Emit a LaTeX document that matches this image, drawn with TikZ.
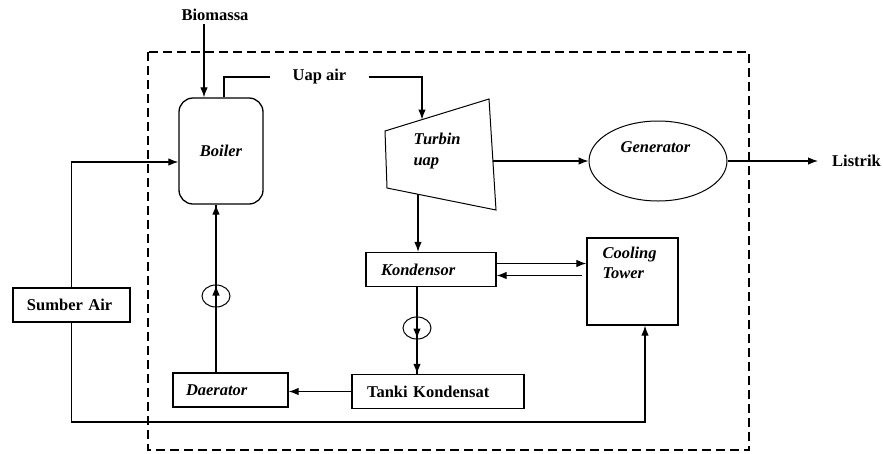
\documentclass[tikz,border=0pt]{standalone}
\usepackage{fontspec}
\setmainfont{Liberation Serif}
\usetikzlibrary{shapes.geometric,arrows.meta}

\tikzset{
    box/.style={draw, line width=1.3pt, align=left, minimum height=34pt},
    pump/.style={draw, ellipse, line width=1pt, minimum width=28pt, minimum height=22pt, inner sep=0pt},
    flow/.style={line width=1.1pt},
}

\begin{document}
\begin{tikzpicture}[x=1pt, y=-1pt, >={Latex[length=10pt,width=7.5pt]},
        font=\fontsize{16.5}{20}\selectfont\bfseries]
        \useasboundingbox (0,0) rectangle (883,453);
        % system boundary
        \draw[line width=2.8pt, dash pattern=on 9pt off 5pt] (148,52) rectangle (749,450);

        \node (Bio) at (215,15) {Biomassa};
        \node (Boiler) [draw, line width=1.3pt, rounded corners=14pt, minimum width=84pt, minimum height=106pt] at (221,151) {\itshape Boiler};
        \node (Uap) [inner xsep=22pt] at (319.5,77) {Uap air};

        % turbine
        \coordinate (T1) at (385,131);
        \coordinate (T2) at (489,99);
        \coordinate (T3) at (496,210);
        \coordinate (T4) at (387,188);
        \draw[line width=1pt] (T1) -- (T2) -- (T3) -- (T4) -- cycle;
        \node (Turbin) [anchor=west, align=left] at (410,151) {\itshape Turbin\\[1pt]\itshape uap};
        \coordinate (Tin) at (422,119.5);
        \coordinate (Tout) at (493,161);
        \coordinate (Tbot) at (418,194);

        \node (Gen) [draw, ellipse, line width=1pt, minimum width=138pt, minimum height=80pt] at (658,161) {};
        \node (GenText) at (655.5,147) {\itshape Generator};
        \node (Listrik) [anchor=west, inner xsep=14pt] at (818,161) {Listrik};

        \node (Kond) [box, text width=100pt, inner xsep=15pt] at (431,269.5) {\itshape Kondensor};
        \node (Cool) [draw, line width=1.3pt, minimum width=91pt, minimum height=87pt] at (632.5,281.5) {};
        \node (CoolText) [anchor=west, align=left] at (599,263) {\itshape Cooling\\\itshape Tower};
        \node (Tanki) [box, text width=142pt, inner xsep=15pt] at (438,391.5) {Tanki Kondensat};
        \node (Daer) [box, text width=89pt, inner xsep=13pt] at (230.5,390) {\itshape Daerator};
        \node (Sumber) [box, text width=89pt, inner xsep=14pt] at (71.5,305) {Sumber Air};

        \node (PumpA) [pump] at (216,296) {};
        \node (PumpB) [pump] at (417,328) {};

        \coordinate (KcA) at ([yshift=6pt]Kond.east);
        \coordinate (KcB) at ([yshift=-6pt]Kond.east);
        \coordinate (Return) at (645,422);

        % steam loop
        \draw[flow,->] ([xshift=-11pt]Bio.south) -- ([xshift=-11pt]Bio.south |- Boiler.north);
        \draw[flow] ([xshift=3pt]Boiler.north) |- (Uap.west);
        \draw[flow,->] (Uap.east) -| (Tin);
        \draw[flow,->] (Tout) -- (Gen.west);
        \draw[flow,->] (Gen.east) -- (Listrik.west);
        \draw[flow,->] (Tbot) -- (Tbot |- Kond.north);
        %
        \draw[flow,->] (KcA) -- (KcA -| Cool.west);
        \draw[flow,->] ([xshift=-4pt]KcB -| Cool.west) -- (KcB);
        %
        \draw[flow] (PumpB |- Kond.south) -- (PumpB |- Tanki.north);
        \draw[flow,->] (PumpB |- Kond.south) -- ([yshift=1pt]PumpB.south);
        \draw[flow,->] (PumpB.south) -- (PumpB |- Tanki.north);
        \draw[flow,->] (Tanki.west) -- (Tanki.west -| Daer.east);
        \draw[flow] (PumpA |- Daer.north) -- (PumpA |- Boiler.south);
        \draw[flow,->] (PumpA |- Daer.north) -- ([yshift=-1pt]PumpA.north);
        \draw[flow,->] (PumpA.north) -- (PumpA |- Boiler.south);
        % make-up water
        \draw[flow,->] (Sumber.north) |- ([yshift=-11pt]Boiler.west);
        \draw[flow,->] (Sumber.south) |- (Return) -- (Return |- Cool.south);
\end{tikzpicture}
\end{document}
